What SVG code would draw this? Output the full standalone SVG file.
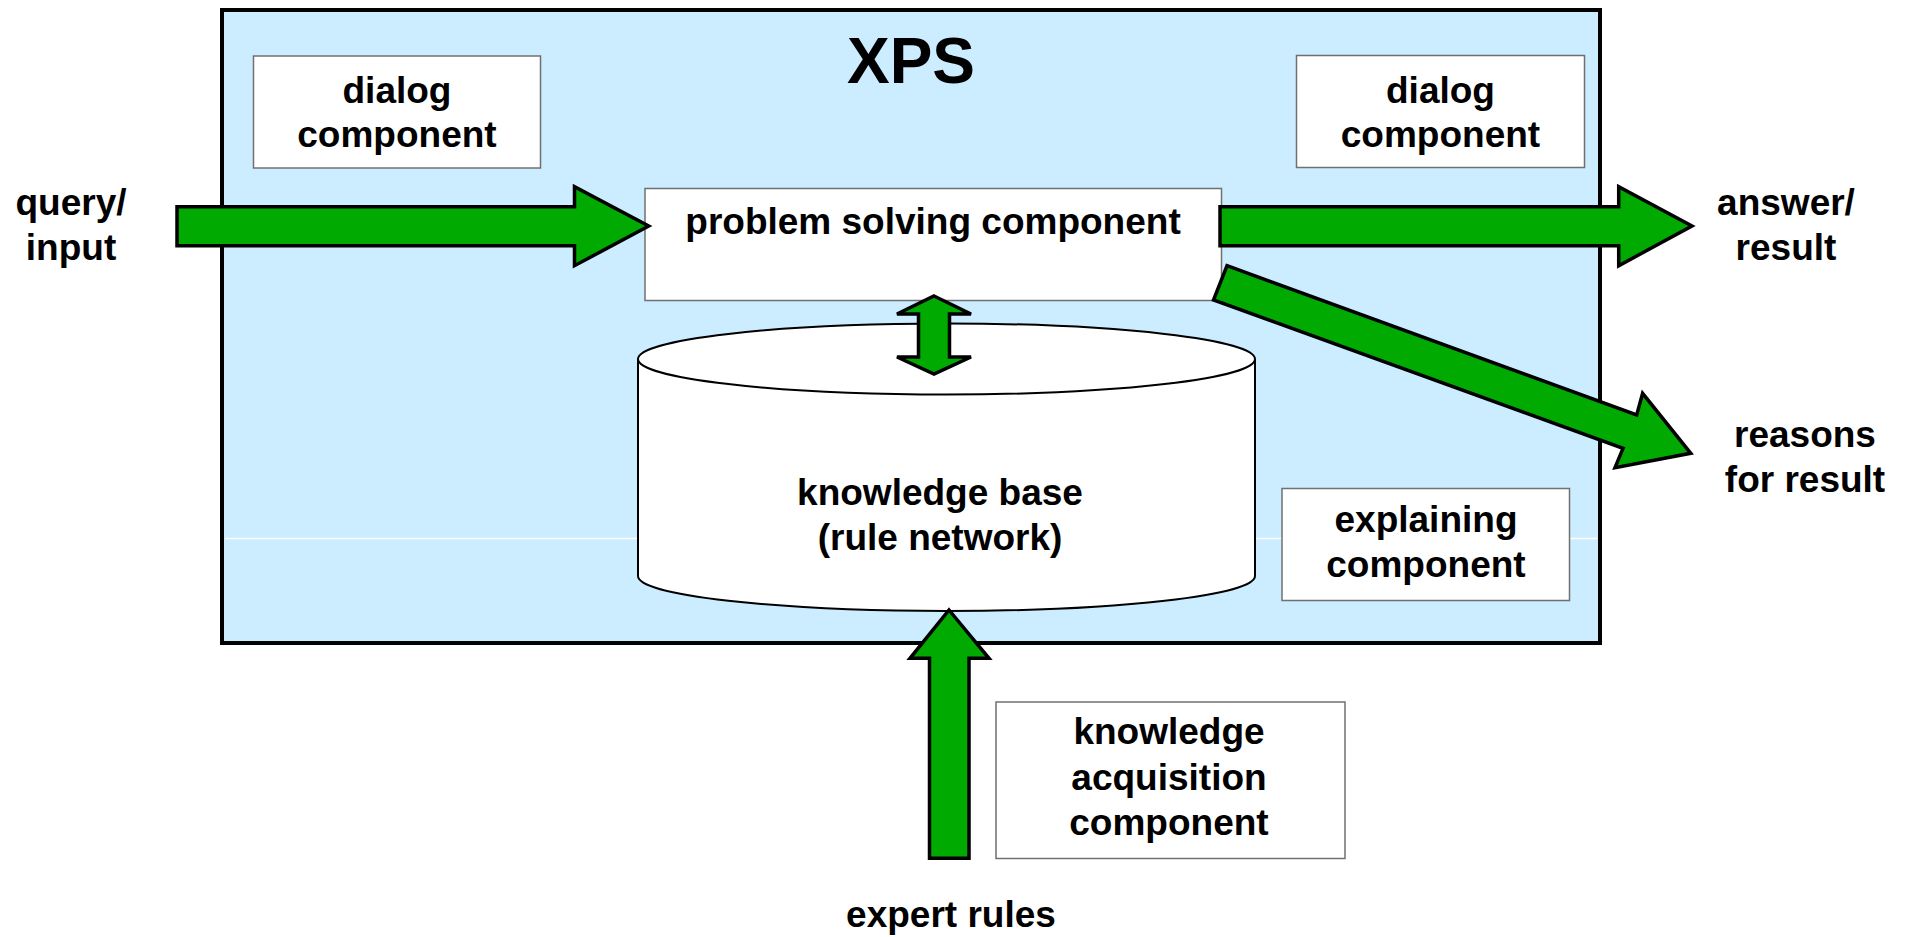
<svg xmlns="http://www.w3.org/2000/svg" width="1906" height="937" viewBox="0 0 1906 937">
<style>
  text { font-family: "Liberation Sans", Arial, sans-serif; font-weight: bold; font-size: 37px; fill: #000; text-anchor: middle; }
  .comp { fill: #ffffff; stroke: #707070; stroke-width: 1.5; }
  .arrow { fill: #00AA00; stroke: #000; stroke-width: 3.5; stroke-linejoin: miter; }
  .title { font-size: 64px; }
</style>
<rect width="1906" height="937" fill="#ffffff"/>
<g id="xps">
  <rect x="222" y="10" width="1378" height="633" fill="#CCECFF" stroke="#000" stroke-width="4"/>
  <line x1="225" y1="538.5" x2="1597" y2="538.5" stroke="#ffffff" stroke-width="1.5"/>
  <text class="title" x="911" y="83">XPS</text>
</g>
<g id="dialog1">
  <rect class="comp" x="253.5" y="56" width="287" height="112"/>
  <text x="397" y="102.5">dialog</text>
  <text x="397" y="147">component</text>
</g>
<g id="dialog2">
  <rect class="comp" x="1296.5" y="55.5" width="288" height="112"/>
  <text x="1440.5" y="102.5">dialog</text>
  <text x="1440.5" y="147">component</text>
</g>
<g id="problem">
  <rect class="comp" x="645" y="188.5" width="576.5" height="112"/>
  <text x="933" y="233.5">problem solving component</text>
</g>
<g id="knowledgebase">
  <path d="M638,359 L638,576 A308.5,35 0 0 0 1255,576 L1255,359" fill="#ffffff" stroke="#000" stroke-width="2"/>
  <ellipse cx="946.5" cy="359" rx="308.5" ry="35.5" fill="#ffffff" stroke="#000" stroke-width="2"/>
  <text x="940" y="505">knowledge base</text>
  <text x="940" y="550">(rule network)</text>
</g>
<g id="explaining">
  <rect class="comp" x="1282" y="488.5" width="287.5" height="112"/>
  <text x="1426" y="532">explaining</text>
  <text x="1426" y="577">component</text>
</g>
<g id="acquisition">
  <rect class="comp" x="996" y="702" width="349" height="156.5"/>
  <text x="1169" y="743.5">knowledge</text>
  <text x="1169" y="790">acquisition</text>
  <text x="1169" y="835">component</text>
</g>
<g id="labels">
  <text x="71" y="215">query/</text>
  <text x="71" y="260">input</text>
  <text x="1786" y="215">answer/</text>
  <text x="1786" y="260">result</text>
  <text x="1805" y="447">reasons</text>
  <text x="1805" y="492">for result</text>
  <text x="951" y="927">expert rules</text>
</g>
<g id="connectors">
  <path class="arrow" d="M177,206.7 L574.5,206.7 L574.5,186.7 L648.7,226 L574.5,265.7 L574.5,245.7 L177,245.7 Z"/>
  <path class="arrow" d="M1220,206.7 L1618.7,206.7 L1618.7,186.7 L1692,226 L1618.7,265.7 L1618.7,245.7 L1220,245.7 Z"/>
  <path class="arrow" d="M1227,265.7 L1636.7,415 L1642.6,393.3 L1690.8,453.3 L1615,467.7 L1623,448.3 L1213.5,300 Z"/>
  <path class="arrow" d="M934,296 L971,314 L949.5,314 L949.5,357 L971,357 L934,374 L897,357 L918.5,357 L918.5,314 L897,314 Z"/>
  <path class="arrow" d="M949,610 L989,658.3 L969,658.3 L969,858.3 L929.5,858.3 L929.5,658.3 L910,658.3 Z"/>
</g>
</svg>
